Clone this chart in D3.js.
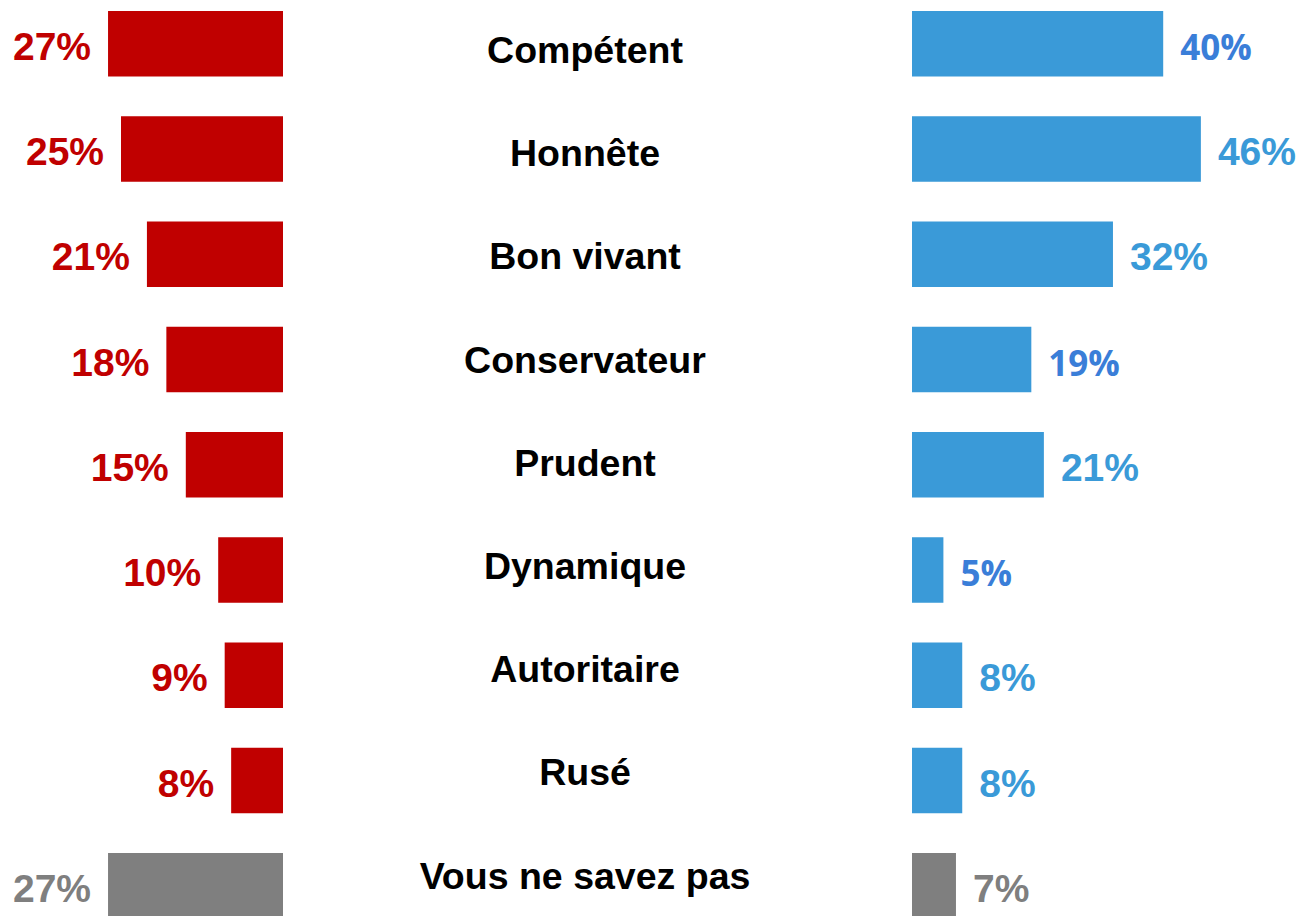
<!DOCTYPE html>
<html>
<head>
<meta charset="utf-8">
<script src="https://cdn.jsdelivr.net/npm/d3@7"></script>
<style>
  html, body { margin: 0; padding: 0; background: #fff; overflow: hidden; }
  svg { display: block; }
</style>
</head>
<body>
<svg id="chart" width="1302" height="916"></svg>
<script>
// ---- Data ----
const categories = ["Compétent", "Honnête", "Bon vivant", "Conservateur", "Prudent", "Dynamique", "Autoritaire", "Rusé", "Vous ne savez pas"];
const leftValues = [27, 25, 21, 18, 15, 10, 9, 8, 27];
const rightValues = [40, 46, 32, 19, 21, 5, 8, 8, 7];
const noOpinionCategory = "Vous ne savez pas";

// ---- Style ----
const W = 1302, H = 916;
const RED = "#C00000", BLUE = "#3A9AD8", GREY = "#7F7F7F";
const BLUE_DARK = "#3A7ED8";
const darkBlueLabels = new Set(["Compétent", "Conservateur", "Dynamique"]);
const numFont = "'Liberation Sans', Arial, sans-serif";
const altNumFont = "'Open Sans', sans-serif";

const svg = d3.select("#chart");

const step = 105.25, barH = 65.5, top0 = 11;
const n = categories.length;
const pIn = (step - barH) / step;
const y = d3.scaleBand()
  .domain(categories)
  .range([top0, top0 + step * (n - pIn)])
  .paddingInner(pIn)
  .paddingOuter(0);

const yLab = d3.scalePoint()
  .domain(categories)
  .range([63, 63 + 103.2 * (n - 1)]);

const xL = d3.scaleLinear().domain([0, 50]).range([283, 283 - 50 * 6.48]);
const xR = d3.scaleLinear().domain([0, 50]).range([912, 912 + 50 * 6.28]);

const rows = categories.map((c, i) => ({ c, l: leftValues[i], r: rightValues[i] }));

// Left bars
svg.append("g").selectAll("rect").data(rows).join("rect")
  .attr("x", d => xL(d.l))
  .attr("y", d => y(d.c))
  .attr("width", d => xL(0) - xL(d.l))
  .attr("height", y.bandwidth())
  .attr("fill", d => d.c === noOpinionCategory ? GREY : RED);

// Right bars
svg.append("g").selectAll("rect").data(rows).join("rect")
  .attr("x", xR(0))
  .attr("y", d => y(d.c))
  .attr("width", d => xR(d.r) - xR(0))
  .attr("height", y.bandwidth())
  .attr("fill", d => d.c === noOpinionCategory ? GREY : BLUE);

// Left labels
svg.append("g").selectAll("text").data(rows).join("text")
  .attr("x", d => xL(d.l) - 17)
  .attr("y", d => y(d.c) + y.bandwidth() / 2 + 16)
  .attr("text-anchor", "end")
  .attr("font-family", numFont)
  .attr("font-weight", "bold")
  .attr("font-size", 39)
  .attr("fill", d => d.c === noOpinionCategory ? GREY : RED)
  .text(d => d.l + "%");

// Right labels
svg.append("g").selectAll("text").data(rows).join("text")
  .attr("x", d => xR(d.r) + 17)
  .attr("y", d => y(d.c) + y.bandwidth() / 2 + 16)
  .attr("text-anchor", "start")
  .attr("font-family", d => darkBlueLabels.has(d.c) ? altNumFont : numFont)
  .attr("font-weight", "bold")
  .attr("font-size", d => darkBlueLabels.has(d.c) ? 35 : 39)
  .attr("fill", d => d.c === noOpinionCategory ? GREY : (darkBlueLabels.has(d.c) ? BLUE_DARK : BLUE))
  .text(d => d.r + "%");

// Category labels
svg.append("g").selectAll("text").data(categories).join("text")
  .attr("x", 585)
  .attr("y", d => yLab(d))
  .attr("text-anchor", "middle")
  .attr("font-family", numFont)
  .attr("font-weight", "bold")
  .attr("font-size", 37.5)
  .attr("fill", "#000")
  .text(d => d);
</script>
</body>
</html>
